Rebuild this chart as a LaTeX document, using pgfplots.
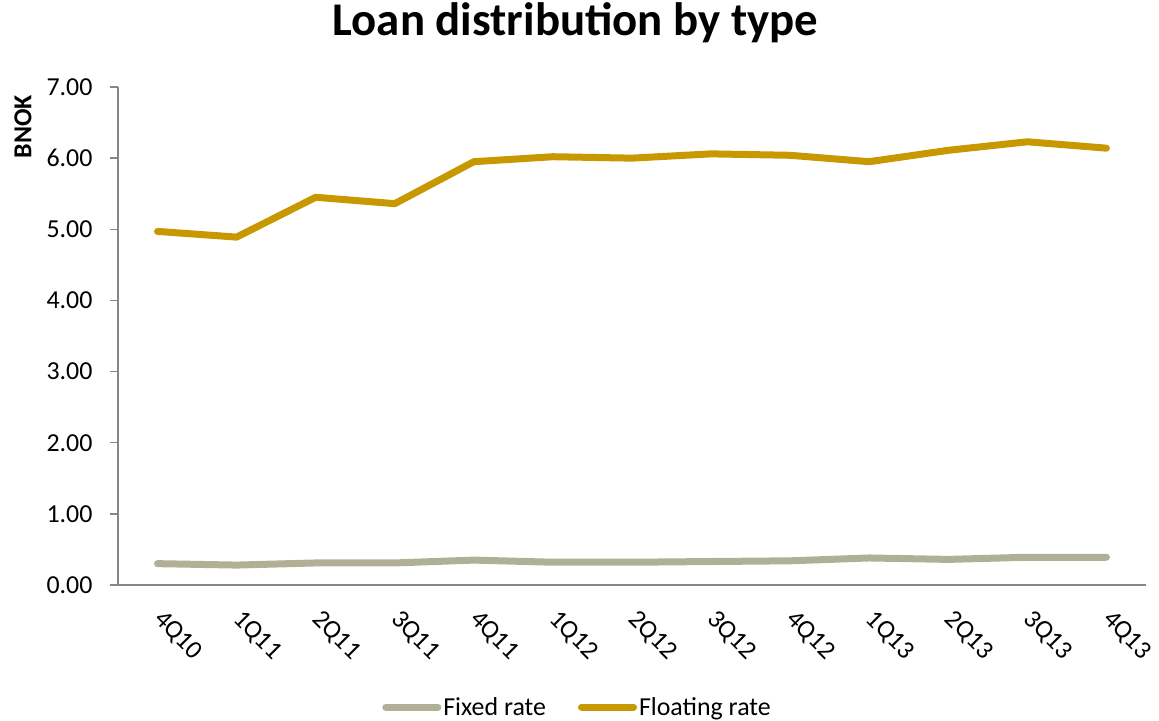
\documentclass[border=0pt]{standalone}
\usepackage{pgfplots}
\pgfplotsset{compat=1.18}
\usepackage{fontspec}
\setmainfont{Carlito}

\definecolor{fixedc}{RGB}{176,176,150}
\definecolor{floatc}{RGB}{200,152,0}
\definecolor{axisc}{RGB}{134,134,134}

\begin{document}
\begin{tikzpicture}
% bounding box = the 1159x721 reference, axis box at 118..1146 x 87..585
\useasboundingbox (-118bp,-136bp) rectangle (1041bp,585bp);
\begin{axis}[
    scale only axis,
    width=1028bp, height=498bp,
    xmin=-0.5, xmax=12.5,
    ymin=0, ymax=7,
    axis lines*=left,
    axis line style={axisc, line width=1.5bp},
    xtick={0,...,12},
    xticklabels={4Q10,1Q11,2Q11,3Q11,4Q11,1Q12,2Q12,3Q12,4Q12,1Q13,2Q13,3Q13,4Q13},
    x tick style={draw=none},
    ytick={0,1,...,7},
    y tick style={axisc, line width=1.5bp},
    tick align=outside,
    major tick length=8bp,
    /pgf/number format/assume math mode=true,
    /pgf/number format/.cd, fixed, fixed zerofill, precision=2,
    /pgfplots/.cd,
    tick label style={font=\fontsize{26}{30}\selectfont, black},
    xticklabel style={rotate=-45, anchor=north west, xshift=12.5bp, yshift=-2bp},
    yticklabel style={xshift=-14bp},
    ylabel={\bfseries BNOK},
    ylabel style={font=\fontsize{26}{30}\selectfont, at={(axis description cs:-0.0924,0.92)}, anchor=center},
    title={\bfseries Loan distribution by type},
    title style={font=\fontsize{47}{54}\selectfont, at={(axis description cs:0.445,1.118)}, anchor=center},
    legend columns=2,
    legend style={draw=none, at={(axis description cs:0.447,-0.245)}, anchor=center,
        font=\fontsize{26}{30}\selectfont,
        /tikz/every even column/.append style={column sep=30bp}},
    legend image code/.code={\draw[#1, line cap=round] (0bp,0bp) -- (52bp,0bp);},
    every axis plot/.append style={line width=7bp, line cap=round, line join=round},
]
\addplot[fixedc] coordinates {
    (0,0.30) (1,0.28) (2,0.31) (3,0.31) (4,0.35) (5,0.32) (6,0.32)
    (7,0.33) (8,0.34) (9,0.38) (10,0.36) (11,0.39) (12,0.39)
};
\addlegendentry{Fixed rate}
\addplot[floatc] coordinates {
    (0,4.97) (1,4.89) (2,5.45) (3,5.36) (4,5.95) (5,6.02) (6,6.00)
    (7,6.06) (8,6.04) (9,5.95) (10,6.11) (11,6.23) (12,6.14)
};
\addlegendentry{Floating rate}
\end{axis}
\end{tikzpicture}
\end{document}
